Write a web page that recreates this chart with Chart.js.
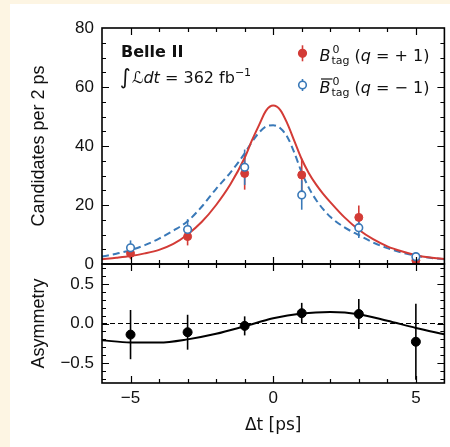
<!DOCTYPE html>
<html>
<head>
<meta charset="utf-8">
<script src="https://cdn.jsdelivr.net/npm/chart.js@4/dist/chart.umd.min.js"></script>
<style>
  html, body { margin: 0; padding: 0; background: #fdf5e3; }
  #card { position: absolute; left: 10px; top: 4px; width: 440px; height: 443px; background: #fff; }
</style>
</head>
<body>
<div id="card"><canvas id="plot" width="440" height="443"></canvas></div>
<script>
// --- Data ---
const binCenters = [-5, -3, -1, 1, 3, 5];
const bTag = [3.6, 9.3, 30.7, 30.2, 15.8, 1.2];
const bTagErr = [2.0, 3.0, 5.5, 5.5, 4.0, 1.2];
const bbarTag = [5.5, 11.7, 32.8, 23.4, 12.3, 2.5];
const bbarTagErr = [2.5, 3.5, 6.0, 5.0, 3.5, 1.5];
const asym = [-0.14, -0.11, -0.03, 0.13, 0.12, -0.23];
const asymErr = [0.31, 0.22, 0.12, 0.13, 0.19, 0.48];

const fitT = [-6, -5.5, -5, -4.5, -4, -3.5, -3, -2.5, -2, -1.5, -1, -0.75, -0.5, -0.25, 0, 0.25, 0.5, 0.75, 1, 1.25, 1.5, 1.75, 2, 2.5, 3, 3.5, 4, 4.5, 5, 5.5, 6];
const fitB = [1.6, 2.1, 2.7, 3.6, 4.8, 6.8, 10.0, 14.3, 20.0, 27.0, 36.0, 41.8, 47.0, 52.0, 53.7, 52.2, 47.5, 41.5, 35.5, 30.8, 27.0, 23.8, 21.0, 15.8, 11.6, 8.4, 6.0, 4.3, 3.0, 2.2, 1.7];
const fitBbar = [2.5, 3.5, 4.7, 6.4, 8.6, 11.3, 14.5, 19.5, 25.5, 31.0, 37.5, 41.3, 44.5, 46.6, 47.0, 46.0, 43.0, 37.5, 31.0, 25.8, 21.8, 18.6, 16.0, 12.4, 9.8, 7.3, 5.4, 3.9, 2.8, 2.1, 1.6];

const asymFitT = [-6, -5, -4, -3, -2, -1, 0, 1, 2, 3, 4, 5, 6];
const asymFit = [-0.21, -0.24, -0.24, -0.20, -0.13, -0.035, 0.065, 0.125, 0.144, 0.118, 0.035, -0.056, -0.136];

const zeroT = [-6, 6];
const zeroA = [0, 0];

// tick labels
const xMajor = [-5, 0, 5];
const yMajor = [0, 20, 40, 60, 80];
const aMajor = [-0.5, 0, 0.5];

const RED = '#d33b36';
const BLUE = '#3a79b8';
const TICK_FONT = { family: 'Liberation Sans', size: 17 };
const minus = s => String(s).replace('-', '\u2212');
const pts = (xs, ys) => xs.map((x, i) => ({ x, y: ys[i] }));

// --- error bars, frames, inward ticks and text ---
const decor = {
    id: 'decor',
    beforeDatasetsDraw(chart) {
        const { ctx, scales: { x, y, yAsym } } = chart;
        ctx.save();
        ctx.lineWidth = 1.6;
        const bars = (ys, errs, sc, color) => {
            ctx.strokeStyle = color;
            binCenters.forEach((t, i) => {
                const px = x.getPixelForValue(t);
                ctx.beginPath();
                ctx.moveTo(px, sc.getPixelForValue(ys[i] - errs[i]));
                ctx.lineTo(px, sc.getPixelForValue(ys[i] + errs[i]));
                ctx.stroke();
            });
        };
        bars(bTag, bTagErr, y, RED);
        bars(bbarTag, bbarTagErr, y, BLUE);
        bars(asym, asymErr, yAsym, '#000');
        ctx.restore();
    },
    afterDraw(chart) {
        const { ctx, scales: { x, y, yAsym } } = chart;
        ctx.save();
        ctx.strokeStyle = '#000';

        [y, yAsym].forEach(sc => {
            const top = sc.top, bot = sc.bottom, l = x.left, r = x.right;
            ctx.lineWidth = 1.2;
            // x ticks on top and bottom edge
            for (let t = -5; t <= 5; t++) {
                const px = Math.round(x.getPixelForValue(t)) + 0.5;
                const len = xMajor.includes(t) ? 7 : 4;
                ctx.beginPath();
                ctx.moveTo(px, top); ctx.lineTo(px, top + len);
                ctx.moveTo(px, bot); ctx.lineTo(px, bot - len);
                ctx.stroke();
            }
            // y ticks left and right
            let vals, majors;
            if (sc === y) {
                vals = []; for (let v = 5; v < 80; v += 5) vals.push(v);
                majors = yMajor;
            } else {
                vals = []; for (let k = -7; k <= 7; k++) vals.push(k / 10);
                majors = aMajor;
            }
            vals.forEach(v => {
                const py = Math.round(sc.getPixelForValue(v)) + 0.5;
                const len = majors.some(m => Math.abs(m - v) < 1e-6) ? 7 : 4;
                ctx.beginPath();
                ctx.moveTo(l, py); ctx.lineTo(l + len, py);
                ctx.moveTo(r, py); ctx.lineTo(r - len, py);
                ctx.stroke();
            });
            ctx.lineWidth = 1.6;
            ctx.strokeRect(l, top, r - l, bot - top);
        });

        // Belle II label
        ctx.fillStyle = '#111';
        ctx.textBaseline = 'alphabetic';
        ctx.textAlign = 'left';
        ctx.font = 'bold 16px "DejaVu Sans"';
        ctx.fillText('Belle II', 111, 52.7);

        const runs = (x0, y0, list) => {
            let cx = x0;
            list.forEach(r => {
                ctx.font = r.font;
                ctx.fillText(r.text, cx, y0 + (r.dy || 0));
                cx += ctx.measureText(r.text).width + (r.gap || 0);
            });
            return cx;
        };
        const REG = '16px "DejaVu Sans"';
        const ITA = 'italic 16px "DejaVu Sans"';
        const SML = '11px "DejaVu Sans"';
        runs(110, 79.3, [
            { text: '\u222B', font: '21px "DejaVu Sans"', dy: 1, gap: 1 },
            { text: '\u2112', font: ITA },
            { text: 'dt', font: ITA },
            { text: ' = 362 fb', font: REG },
            { text: '\u22121', font: SML, dy: -7 }
        ]);

        // legend
        const legendRow = (my, err, filled, color, sign, bar) => {
            const mx = 292.5;
            ctx.strokeStyle = color;
            ctx.lineWidth = 1.6;
            ctx.beginPath();
            ctx.moveTo(mx, my - err); ctx.lineTo(mx, my + err);
            ctx.stroke();
            ctx.beginPath();
            ctx.arc(mx, my, 3.8, 0, Math.PI * 2);
            ctx.fillStyle = filled ? color : '#fff';
            ctx.fill();
            ctx.stroke();

            ctx.fillStyle = '#111';
            const base = my + 7.5;
            const bx = 309.5;
            ctx.font = ITA;
            ctx.fillText('B', bx, base);
            const bw = ctx.measureText('B').width;
            if (bar) {
                ctx.strokeStyle = '#111';
                ctx.lineWidth = 1.2;
                ctx.beginPath();
                ctx.moveTo(bx + 1.5, base - 13.5); ctx.lineTo(bx + bw + 2, base - 13.5);
                ctx.stroke();
            }
            ctx.font = SML;
            const sx = bx + bw + 2;
            ctx.fillText('0', sx, base - 7.5);
            ctx.fillText('tag', sx - 1, base + 3);
            const tw = ctx.measureText('tag').width;
            runs(sx + tw + 4, base, [
                { text: '(', font: REG },
                { text: 'q', font: ITA },
                { text: ' = ' + sign + ' 1)', font: REG }
            ]);
        };
        legendRow(49.3, 8, true, RED, '+', false);
        legendRow(81, 6, false, BLUE, '\u2212', true);

        ctx.restore();
    }
};

const ctx = document.getElementById('plot').getContext('2d');

new Chart(ctx, {
    type: 'scatter',
    data: {
        datasets: [
            {
                data: pts(binCenters, bbarTag), yAxisID: 'y',
                pointRadius: 3.8, pointBackgroundColor: '#fff', pointBorderColor: BLUE, pointBorderWidth: 1.6
            },
            {
                data: pts(binCenters, bTag), yAxisID: 'y',
                pointRadius: 4, pointBackgroundColor: RED, pointBorderColor: RED, pointBorderWidth: 1
            },
            {
                data: pts(binCenters, asym), yAxisID: 'yAsym',
                pointRadius: 4.5, pointBackgroundColor: '#000', pointBorderColor: '#000', pointBorderWidth: 1
            },
            {
                data: pts(fitT, fitB), yAxisID: 'y', showLine: true, pointRadius: 0,
                borderColor: RED, borderWidth: 2, cubicInterpolationMode: 'monotone'
            },
            {
                data: pts(fitT, fitBbar), yAxisID: 'y', showLine: true, pointRadius: 0,
                borderColor: BLUE, borderWidth: 2, borderDash: [7, 4], cubicInterpolationMode: 'monotone'
            },
            {
                data: pts(asymFitT, asymFit), yAxisID: 'yAsym', showLine: true, pointRadius: 0,
                borderColor: '#000', borderWidth: 2, cubicInterpolationMode: 'monotone'
            },
            {
                data: pts(zeroT, zeroA), yAxisID: 'yAsym', showLine: true, pointRadius: 0,
                borderColor: '#000', borderWidth: 1.2, borderDash: [5, 3]
            }
        ]
    },
    options: {
        responsive: false,
        animation: false,
        layout: { padding: { left: 0, right: 5, top: 24, bottom: 0 } },
        plugins: { legend: { display: false }, tooltip: { enabled: false } },
        scales: {
            x: {
                type: 'linear', min: -6, max: 6,
                afterBuildTicks: s => { s.ticks = xMajor.map(v => ({ value: v })); },
                afterFit: s => { s.height = 64; },
                grid: { display: false, drawTicks: false },
                border: { display: false },
                ticks: { callback: v => minus(v), font: TICK_FONT, color: '#111', padding: 5, autoSkip: false, maxRotation: 0 },
                title: { display: true, text: '\u0394t [ps]', color: '#111', font: { family: 'DejaVu Sans', size: 17 }, padding: { top: 2, bottom: 11 } }
            },
            yAsym: {
                type: 'linear', position: 'left', stack: 'panels', stackWeight: 119,
                min: -0.75, max: 0.75,
                afterBuildTicks: s => { s.ticks = aMajor.map(v => ({ value: v })); },
                afterFit: s => { s.width = 92; },
                grid: { display: false, drawTicks: false },
                border: { display: false },
                ticks: { callback: v => minus(v.toFixed(1)), font: TICK_FONT, color: '#111', padding: 8 },
                title: { display: true, text: 'Asymmetry', color: '#111', font: { family: 'Liberation Sans', size: 18 }, padding: { top: 18, bottom: 0 } }
            },
            y: {
                type: 'linear', position: 'left', stack: 'panels', stackWeight: 236,
                min: 0, max: 80,
                afterBuildTicks: s => { s.ticks = yMajor.map(v => ({ value: v })); },
                afterFit: s => { s.width = 92; },
                grid: { display: false, drawTicks: false },
                border: { display: false },
                ticks: { callback: v => String(v), font: TICK_FONT, color: '#111', padding: 8 },
                title: { display: true, text: 'Candidates per 2 ps', color: '#111', font: { family: 'Liberation Sans', size: 18 }, padding: { top: 18, bottom: 0 } }
            }
        }
    },
    plugins: [decor]
});
</script>
</body>
</html>
